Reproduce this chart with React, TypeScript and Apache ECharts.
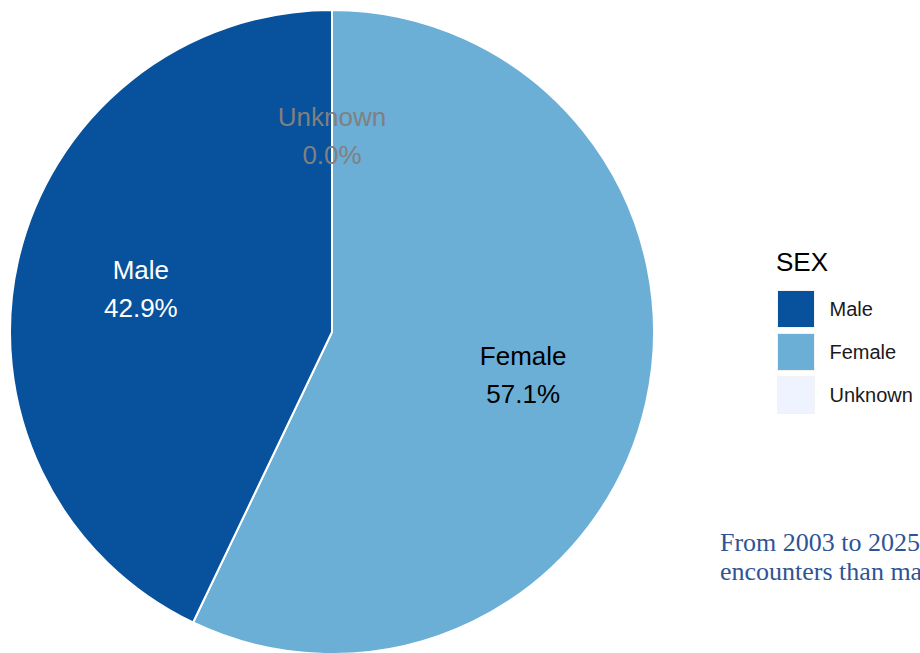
import React, { useEffect, useRef } from "react";
import * as echarts from "echarts";

const categories = ["Female", "Male", "Unknown"];
const percents = [57.1, 42.9, 0.0];
const colors = ["#6baed6", "#08519c", "#eff3ff"];
const labelColors = ["#000000", "#ffffff", "#808080"];
const legendOrder = ["Male", "Female", "Unknown"];
const legendTitle = "SEX";
const noteLines = ["From 2003 to 2025, females had more", "encounters than males."];

export default function App() {
  const ref = useRef<HTMLDivElement>(null);
  useEffect(() => {
    document.body.style.margin = "0";
    const chart = echarts.init(ref.current!, null, { renderer: "svg" });
    const pieData = categories.map((c, i) => ({
      name: c,
      value: percents[i],
      itemStyle: { color: colors[i] },
    }));
    const labelData = categories.map((c, i) => ({
      name: c,
      value: percents[i],
      itemStyle: { color: "rgba(0,0,0,0)", borderWidth: 0 },
      label: { color: labelColors[i] },
    }));
    chart.setOption({
      animation: false,
      backgroundColor: "#ffffff",
      legend: {
        data: legendOrder,
        orient: "vertical",
        left: 772,
        top: 285,
        icon: "rect",
        itemWidth: 37,
        itemHeight: 37,
        itemGap: 5,
        selectedMode: false,
        itemStyle: { borderColor: "#f2f2f2", borderWidth: 1 },
        textStyle: {
          fontFamily: "Liberation Sans, Arial",
          fontSize: 20,
          color: "#1a1a1a",
          padding: [0, 0, 0, 10],
        },
      },
      graphic: [
        {
          type: "text",
          left: 776,
          top: 249,
          style: {
            text: legendTitle,
            font: "26px 'Liberation Sans', Arial",
            fill: "#000000",
          },
        },
        {
          type: "text",
          x: 720,
          y: 528,
          style: {
            text: noteLines.join("\n"),
            font: "26px 'Liberation Serif', 'Times New Roman'",
            lineHeight: 29,
            fill: "#2f5496",
          },
        },
      ],
      series: [
        {
          type: "pie",
          center: [332, 332],
          radius: [0, 322],
          startAngle: 90,
          clockwise: true,
          silent: true,
          itemStyle: { borderColor: "#ffffff", borderWidth: 2 },
          label: { show: false },
          labelLine: { show: false },
          data: pieData,
        },
        {
          type: "pie",
          center: [332, 332],
          radius: [0, 386],
          startAngle: 90,
          clockwise: true,
          silent: true,
          legendHoverLink: false,
          percentPrecision: 4,
          label: {
            show: true,
            position: "inside",
            fontFamily: "Liberation Sans, Arial",
            fontSize: 26,
            lineHeight: 38,
            formatter: (p: any) => `${p.name}\n${p.percent.toFixed(1)}%`,
          },
          labelLine: { show: false },
          data: labelData,
        },
      ],
    });
    return () => chart.dispose();
  }, []);
  return <div ref={ref} style={{ position: "fixed", left: 0, top: 0, width: 920, height: 653 }} />;
}
